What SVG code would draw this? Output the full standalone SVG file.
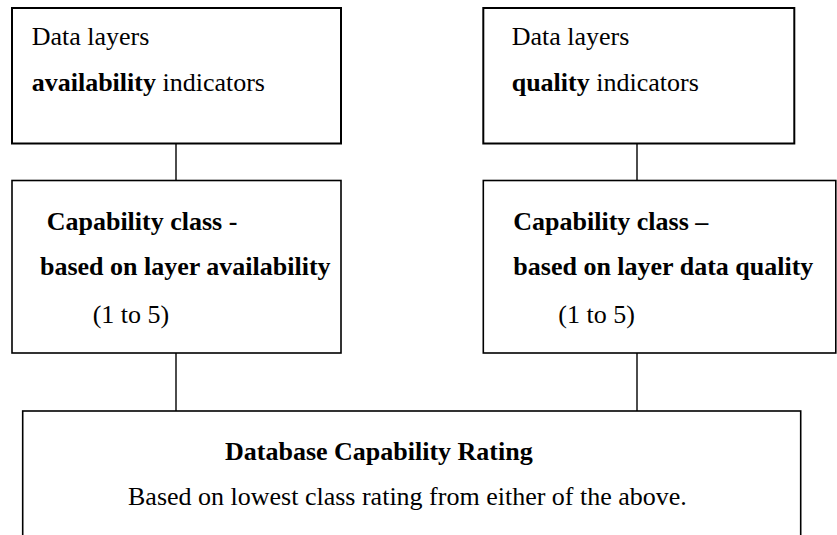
<svg xmlns="http://www.w3.org/2000/svg" width="837" height="535" viewBox="0 0 837 535">
  <style>
    .box { fill: #ffffff; stroke: #000000; stroke-width: 1.6; }
    .box.heavy { stroke-width: 2; }
    .wire { stroke: #000000; stroke-width: 1.4; fill: none; }
    text { font-family: "Liberation Serif", "Times New Roman", serif; font-size: 26px; fill: #000000; }
    .b { font-weight: bold; }
  </style>
  <rect width="837" height="535" fill="#ffffff"/>

  <!-- vertical links between the stacked boxes -->
  <g id="connectors">
    <line class="wire" x1="176" y1="143" x2="176" y2="180"/>
    <line class="wire" x1="637" y1="143" x2="637" y2="180"/>
    <line class="wire" x1="176" y1="353" x2="176" y2="411"/>
    <line class="wire" x1="637" y1="353" x2="637" y2="411"/>
  </g>

  <g id="availability-indicators">
    <rect class="box heavy" x="12" y="8" width="329" height="135.5"/>
    <text x="31.7" y="45">Data layers</text>
    <text x="31.7" y="90.7"><tspan class="b">availability</tspan> indicators</text>
  </g>

  <g id="quality-indicators">
    <rect class="box heavy" x="483.3" y="8" width="311" height="135.5"/>
    <text x="511.7" y="45">Data layers</text>
    <text x="511.7" y="90.7"><tspan class="b">quality</tspan> indicators</text>
  </g>

  <g id="availability-class">
    <rect class="box" x="12" y="180.5" width="329" height="172.5"/>
    <text class="b" x="46.7" y="230">Capability class -</text>
    <text class="b" x="40" y="275">based on layer availability</text>
    <text x="92.7" y="323">(1 to 5)</text>
  </g>

  <g id="quality-class">
    <rect class="box" x="483.3" y="180.5" width="352.5" height="172.5"/>
    <text class="b" x="513.3" y="230">Capability class –</text>
    <text class="b" x="513.3" y="275">based on layer data quality</text>
    <text x="558.3" y="323">(1 to 5)</text>
  </g>

  <g id="capability-rating">
    <rect class="box" x="22.7" y="411" width="778" height="140"/>
    <text class="b" x="225" y="460">Database Capability Rating</text>
    <text x="128" y="505">Based on lowest class rating from either of the above.</text>
  </g>
</svg>
